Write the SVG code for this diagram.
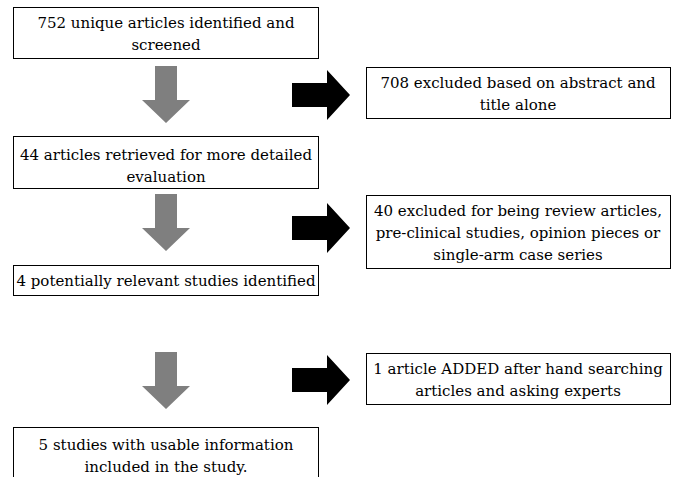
<svg xmlns="http://www.w3.org/2000/svg" width="675" height="477" viewBox="0 0 675 477">
<defs>
<path id="down" d="M13,0H35V34H48L24,57L0,34H13Z" fill="#7f7f7f"/>
<path id="right" d="M0,13H35V0L58,25L35,50V37H0Z" fill="#000"/>
</defs>
<rect width="675" height="477" fill="#fff"/>
<g fill="#fff" stroke="#000" stroke-width="1">
<rect x="13.5" y="7.5" width="305" height="51"/>
<rect x="13.5" y="136.5" width="305" height="52"/>
<rect x="13.5" y="265.5" width="305" height="30"/>
<rect x="13.5" y="427.5" width="305" height="60"/>
<rect x="366.5" y="67.5" width="304" height="51"/>
<rect x="366.5" y="195.5" width="304" height="73"/>
<rect x="366.5" y="353.5" width="304" height="51"/>
</g>
<g id="n1"><text x="166" y="28" font-family="DejaVu Serif" font-size="15" text-anchor="middle">752 unique articles identified and</text><text x="166" y="50" font-family="DejaVu Serif" font-size="15" text-anchor="middle">screened</text></g>
<g id="n2"><text x="166" y="160" font-family="DejaVu Serif" font-size="15" text-anchor="middle">44 articles retrieved for more detailed</text><text x="166" y="182" font-family="DejaVu Serif" font-size="15" text-anchor="middle">evaluation</text></g>
<g id="n3"><text x="166" y="286" font-family="DejaVu Serif" font-size="15" text-anchor="middle">4 potentially relevant studies identified</text></g>
<g id="n4"><text x="166" y="450" font-family="DejaVu Serif" font-size="15" text-anchor="middle">5 studies with usable information</text><text x="166" y="472" font-family="DejaVu Serif" font-size="15" text-anchor="middle">included in the study.</text></g>
<g id="n5"><text x="518" y="88" font-family="DejaVu Serif" font-size="15" text-anchor="middle">708 excluded based on abstract and</text><text x="518" y="110" font-family="DejaVu Serif" font-size="15" text-anchor="middle">title alone</text></g>
<g id="n6"><text x="518" y="216" font-family="DejaVu Serif" font-size="15" text-anchor="middle">40 excluded for being review articles,</text><text x="518" y="238" font-family="DejaVu Serif" font-size="15" text-anchor="middle">pre-clinical studies, opinion pieces or</text><text x="518" y="260" font-family="DejaVu Serif" font-size="15" text-anchor="middle">single-arm case series</text></g>
<g id="n7"><text x="518" y="374" font-family="DejaVu Serif" font-size="15" text-anchor="middle">1 article ADDED after hand searching</text><text x="518" y="396" font-family="DejaVu Serif" font-size="15" text-anchor="middle">articles and asking experts</text></g>
<g id="connectors">
<use href="#down" x="142" y="66"/>
<use href="#down" x="142" y="194"/>
<use href="#down" x="142" y="352"/>
<use href="#right" x="292" y="70"/>
<use href="#right" x="292" y="203"/>
<use href="#right" x="292" y="355"/>
</g>
</svg>
